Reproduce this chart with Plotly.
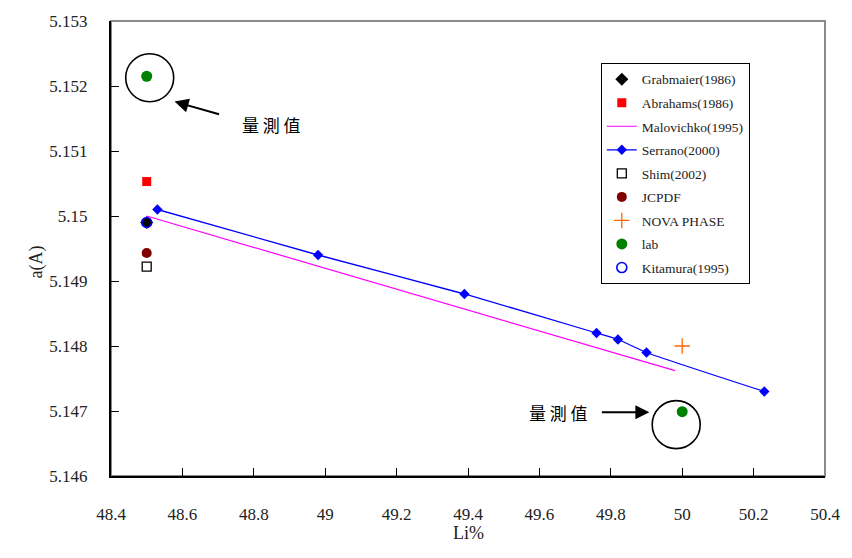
import plotly.graph_objects as go

# ---- data ----
grab_x = [48.5]; grab_y = [5.1499]
abr_x = [48.5]; abr_y = [5.15053]
malo_x = [48.5, 49.98]; malo_y = [5.15, 5.14762]
ser_x = [48.53, 48.98, 49.39, 49.76, 49.82, 49.90, 50.23]
ser_y = [5.1501, 5.1494, 5.1488, 5.1482, 5.1481, 5.1479, 5.1473]
shim_x = [48.5]; shim_y = [5.14922]
jcpdf_x = [48.5]; jcpdf_y = [5.14943]
nova_x = [50.0]; nova_y = [5.148]
lab_x = [48.5, 50.0]; lab_y = [5.15215, 5.14699]
kit_x = [48.5]; kit_y = [5.1499]

x_ticks = [48.4, 48.6, 48.8, 49, 49.2, 49.4, 49.6, 49.8, 50, 50.2, 50.4]
x_tick_text = ["48.4", "48.6", "48.8", "49", "49.2", "49.4", "49.6", "49.8", "50", "50.2", "50.4"]
y_ticks = [5.146, 5.147, 5.148, 5.149, 5.15, 5.151, 5.152, 5.153]
y_tick_text = ["5.146", "5.147", "5.148", "5.149", "5.15", "5.151", "5.152", "5.153"]

note_text = "量 測 值"

fig = go.Figure()

def add(name, x, y, **kw):
    fig.add_trace(go.Scatter(name=name, x=x, y=y, legendgroup=name, **kw))

add("Grabmaier(1986)", grab_x, grab_y, mode="markers",
    marker=dict(symbol="diamond", size=10, color="black"))
add("Abrahams(1986)", abr_x, abr_y, mode="markers",
    marker=dict(symbol="square", size=9, color="#FF0000"))
add("Malovichko(1995)", malo_x, malo_y, mode="lines",
    line=dict(color="#FF00FF", width=1.2))
add("Serrano(2000)", ser_x, ser_y, mode="lines+markers",
    line=dict(color="#0000FF", width=1.3, shape="spline", smoothing=0.5),
    marker=dict(symbol="diamond", size=8, color="#0000FF"))
add("Shim(2002)", shim_x, shim_y, mode="markers",
    marker=dict(symbol="square-open", size=9, color="black", line=dict(width=1.3)))
add("JCPDF", jcpdf_x, jcpdf_y, mode="markers",
    marker=dict(symbol="circle", size=10, color="#800000"))
add("NOVA PHASE", nova_x, nova_y, mode="markers",
    marker=dict(symbol="cross-thin-open", size=11, color="#FF6600",
                line=dict(width=1.3, color="#FF6600")))
add("lab", lab_x, lab_y, mode="markers",
    marker=dict(symbol="circle", size=11, color="#008000"))
add("Kitamura(1995)", kit_x, kit_y, mode="markers",
    marker=dict(symbol="circle-open", size=10, color="#0000FF", line=dict(width=1.6)))

serif = "Liberation Serif, Times New Roman, serif"
cjk = "Noto Sans CJK TC"

shapes = [
    dict(type="rect", xref="paper", yref="paper", x0=0, x1=1, y0=0, y1=1,
         line=dict(color="#8a8a8a", width=2), layer="below"),
    dict(type="circle", xref="x", yref="y", xsizemode="pixel", ysizemode="pixel",
         xanchor=lab_x[0], yanchor=lab_y[0], x0=-21, x1=27, y0=-25.5, y1=22.5,
         line=dict(color="black", width=1.6)),
    dict(type="circle", xref="x", yref="y", xsizemode="pixel", ysizemode="pixel",
         xanchor=lab_x[1], yanchor=lab_y[1], x0=-30, x1=18, y0=-37, y1=11,
         line=dict(color="black", width=1.6)),
]

annotations = [
    dict(x=48.578, y=5.15176, xref="x", yref="y", text="", showarrow=True,
         ax=46, ay=13, arrowhead=2, arrowsize=1.4, arrowwidth=2, arrowcolor="black"),
    dict(x=49.908, y=5.14698, xref="x", yref="y", text="", showarrow=True,
         ax=-49, ay=0, arrowhead=2, arrowsize=1.4, arrowwidth=2, arrowcolor="black"),
    dict(x=48.85, y=5.15141, xref="x", yref="y", text=note_text, showarrow=False,
         font=dict(family=cjk, size=17, color="black")),
    dict(x=49.653, y=5.14698, xref="x", yref="y", text=note_text, showarrow=False,
         font=dict(family=cjk, size=17, color="black")),
    dict(x=-0.122, y=0.47, xref="paper", yref="paper", text="a(A)", showarrow=False,
         textangle=-90, font=dict(family=serif, size=18, color="#222")),
    dict(x=0.5, y=-0.151, xref="paper", yref="paper", text="Li%", showarrow=False,
         font=dict(family=serif, size=18, color="#222")),
]

fig.update_layout(
    width=852, height=558,
    margin=dict(l=111, r=21, t=19, b=82),
    paper_bgcolor="white", plot_bgcolor="white",
    showlegend=True,
    legend=dict(x=0.686, y=0.908, xanchor="left", yanchor="top",
                bgcolor="white", bordercolor="black", borderwidth=1,
                font=dict(family=serif, size=13.5, color="#222"),
                tracegroupgap=3),
    shapes=shapes,
    annotations=annotations,
    xaxis=dict(range=[48.4, 50.4], tickvals=x_ticks, ticktext=x_tick_text,
               showgrid=False, zeroline=False, showline=True, linecolor="black",
               linewidth=2, ticks="inside", ticklen=8, tickcolor="black",
               tickfont=dict(family=serif, size=17, color="#222"),
               ticklabelstandoff=22),
    yaxis=dict(range=[5.146, 5.153], tickvals=y_ticks, ticktext=y_tick_text,
               showgrid=False, zeroline=False, showline=True, linecolor="black",
               linewidth=2, ticks="inside", ticklen=8, tickcolor="black",
               tickfont=dict(family=serif, size=17, color="#222"),
               ticklabelstandoff=18),
)

fig.write_html("out.html")
